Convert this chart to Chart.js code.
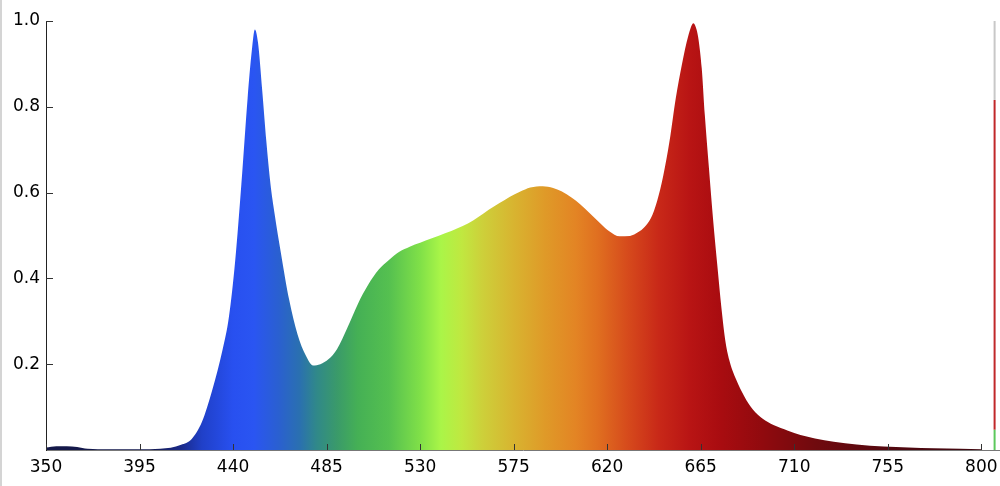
<!DOCTYPE html>
<html lang="en">
  <head>
    <meta charset="UTF-8" />
    <title>Spectrum</title>
    <script src="https://cdn.jsdelivr.net/npm/chart.js"></script>
    <style>
      html, body { margin: 0; padding: 0; background: #fff; }
      #wrap { position: relative; width: 1000px; height: 486px; }
      #edge { position: absolute; left: 0; top: 0; width: 2px; height: 486px; background: #d4d4d4; }
    </style>
  </head>
  <body>
    <div id="wrap">
      <canvas id="spectrumChart" width="1000" height="486"></canvas>
      <div id="edge"></div>
    </div>

    <script>
      // spectrum samples (nm, relative intensity)
      const wavelengths = [
        350, 355, 360, 365, 370, 380, 390, 400, 405, 410, 415, 420, 425, 430,
        435, 438, 441, 444, 447, 449, 450.5, 452, 454, 456, 458, 460, 463, 467,
        471, 475, 478.5, 482, 486, 490, 495, 500, 505, 510, 515, 520, 525, 530,
        536, 542, 548, 553, 558, 563, 568, 573, 578, 583, 589, 594, 598, 603,
        607, 612, 617, 621, 626, 631, 635, 638, 641, 644, 647, 650, 653, 656,
        659, 661.5, 663, 664, 665.5, 667, 669, 671, 673, 675, 677, 679, 682,
        686, 690, 695, 700, 707, 713, 720, 729, 740, 753, 765, 777, 790, 800,
      ];
      const intensity = [
        0.006, 0.009, 0.009, 0.007, 0.003, 0.002, 0.002, 0.002, 0.003, 0.005,
        0.012, 0.025, 0.065, 0.14, 0.235, 0.31, 0.44, 0.62, 0.82, 0.93, 0.98,
        0.95, 0.84, 0.72, 0.62, 0.55, 0.46, 0.35, 0.27, 0.22, 0.197, 0.2, 0.212,
        0.235, 0.285, 0.34, 0.385, 0.42, 0.443, 0.462, 0.474, 0.483, 0.494,
        0.505, 0.517, 0.528, 0.543, 0.56, 0.575, 0.59, 0.602, 0.612, 0.615,
        0.611, 0.603, 0.588, 0.573, 0.55, 0.527, 0.51, 0.498, 0.499, 0.508,
        0.52, 0.54, 0.58, 0.64, 0.72, 0.82, 0.9, 0.965, 0.995, 0.98, 0.955,
        0.89, 0.78, 0.655, 0.535, 0.43, 0.33, 0.25, 0.205, 0.165, 0.125, 0.095,
        0.072, 0.058, 0.045, 0.035, 0.027, 0.019, 0.013, 0.008, 0.006, 0.004,
        0.003, 0.002,
      ];

      // colour of the fill at each wavelength
      const colorStopsNm = [
        350, 400, 415, 425, 440, 450, 462, 472, 480, 490, 500, 515, 530, 540,
        550, 560, 575, 590, 605, 615, 630, 645, 660, 675, 695, 720, 760, 800,
      ];
      const colorStops = [
        "#141848", "#141a50", "#1a2a8a", "#2040c8", "#2850f0", "#2a55f2",
        "#2a60d0", "#2a70b0", "#30888a", "#3a9a6a", "#45b055", "#55c050",
        "#80e048", "#aaf548", "#c0e840", "#cdd03a", "#d8b430", "#df9a28",
        "#e38424", "#e07020", "#d64a1c", "#c82818", "#b81414", "#a80c10",
        "#900a0e", "#700a0e", "#500810", "#400810",
      ];

      // the thin marker line at the right edge
      const markerNm = 806.4;
      const markerLevels = [0, 0.047, 0.816, 1.0];
      const markerColors = ["#5cc85c", "#c0282a", "#c8c8c8"];

      const xTickLabels = [350, 395, 440, 485, 530, 575, 620, 665, 710, 755, 800];
      const yTickLabels = [0.2, 0.4, 0.6, 0.8, 1.0];

      const spectrum = wavelengths.map((w, i) => ({ x: w, y: intensity[i] }));

      function spectrumFill(context) {
        const chart = context.chart;
        if (!chart.chartArea) return "#2850f0";
        const xs = chart.scales.x;
        const x0 = xs.getPixelForValue(350);
        const x1 = xs.getPixelForValue(800);
        const g = chart.ctx.createLinearGradient(x0, 0, x1, 0);
        colorStopsNm.forEach((w, i) => {
          g.addColorStop((w - 350) / 450, colorStops[i]);
        });
        return g;
      }

      const markerSets = markerColors.map((c, i) => ({
        data: [
          { x: markerNm, y: markerLevels[i] },
          { x: markerNm, y: markerLevels[i + 1] },
        ],
        borderColor: c,
        borderWidth: 2,
        pointRadius: 0,
        fill: false,
      }));

      // small inward tick marks like the original plot
      const innerTicks = {
        id: "innerTicks",
        afterDatasetsDraw(chart) {
          const { ctx, scales, chartArea } = chart;
          ctx.save();
          ctx.strokeStyle = "#333";
          ctx.lineWidth = 1;
          ctx.beginPath();
          yTickLabels.forEach((v) => {
            const y = Math.round(scales.y.getPixelForValue(v)) + 0.5;
            ctx.moveTo(chartArea.left, y);
            ctx.lineTo(chartArea.left + 7, y);
          });
          xTickLabels.forEach((v) => {
            const x = Math.round(scales.x.getPixelForValue(v)) + 0.5;
            ctx.moveTo(x, chartArea.bottom);
            ctx.lineTo(x, chartArea.bottom - 6);
          });
          ctx.stroke();
          ctx.restore();
        },
      };

      const ctx = document.getElementById("spectrumChart").getContext("2d");
      const spectrumChart = new Chart(ctx, {
        type: "line",
        data: {
          datasets: [
            {
              data: spectrum,
              backgroundColor: spectrumFill,
              borderWidth: 0,
              pointRadius: 0,
              fill: "origin",
              cubicInterpolationMode: "monotone",
            },
            ...markerSets,
          ],
        },
        options: {
          responsive: false,
          animation: false,
          layout: { padding: { top: 21, right: 0, left: 0, bottom: 0 } },
          plugins: { legend: { display: false }, tooltip: { enabled: false } },
          scales: {
            x: {
              type: "linear",
              min: 350,
              max: 809,
              afterBuildTicks: (scale) => {
                scale.ticks = xTickLabels.map((v) => ({ value: v }));
              },
              afterFit: (scale) => {
                scale.height = 36;
                scale.paddingRight = 0;
              },
              grid: { display: false, drawTicks: false },
              border: { color: "#777", width: 1 },
              ticks: {
                padding: 7,
                color: "#000",
                maxRotation: 0,
                autoSkip: false,
                font: { family: "DejaVu Sans", size: 17 },
              },
            },
            y: {
              min: 0,
              max: 1,
              afterBuildTicks: (scale) => {
                scale.ticks = yTickLabels.map((v) => ({ value: v }));
              },
              afterFit: (scale) => {
                scale.width = 46;
              },
              grid: { display: false, drawTicks: false },
              border: { color: "#222", width: 1 },
              ticks: {
                padding: 6,
                color: "#000",
                font: { family: "DejaVu Sans", size: 17 },
                callback: (v) => v.toFixed(1),
              },
            },
          },
        },
        plugins: [innerTicks],
      });
    </script>
  </body>
</html>
